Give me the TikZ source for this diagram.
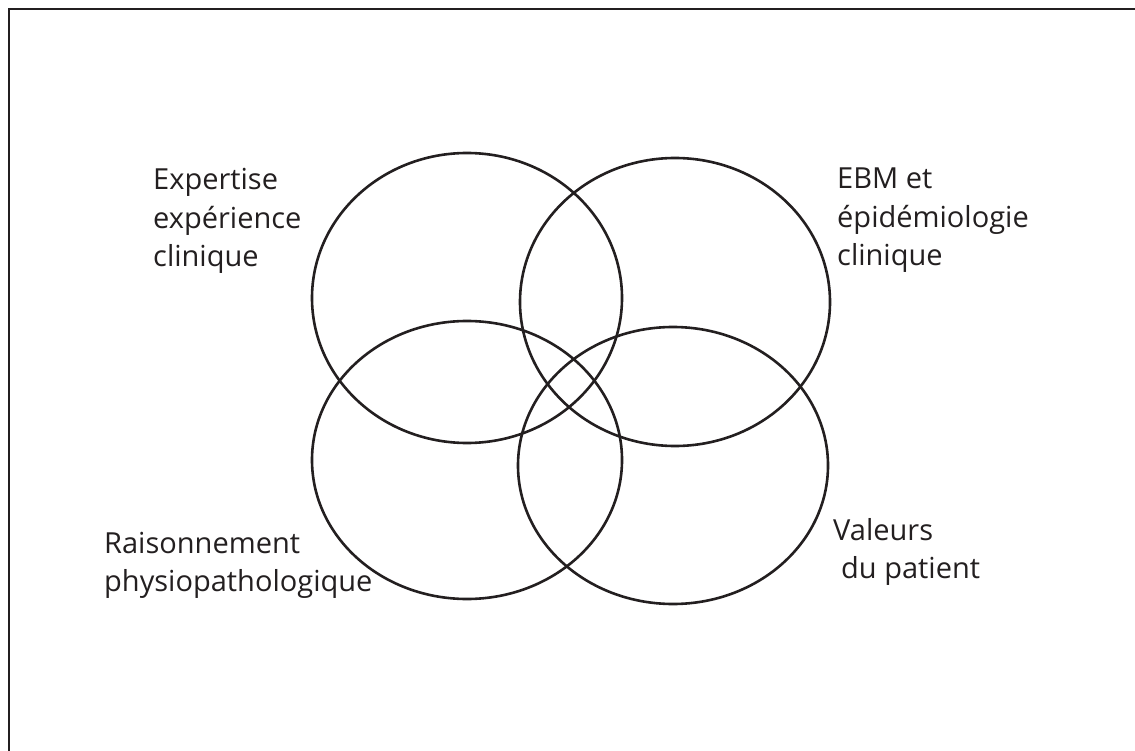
\documentclass[tikz,border=0pt]{standalone}
\usepackage{fontspec}
\setmainfont{Open Sans}
\usetikzlibrary{shapes.geometric}
\definecolor{ink}{RGB}{35,31,32}
\begin{document}
\begin{tikzpicture}[x=1pt,y=-1pt,
  setshape/.style={draw=ink, line width=2.6pt, ellipse, inner sep=0pt, outer sep=0pt},
  label/.style={anchor=base west, inner sep=0pt, text=ink,
    font=\fontsize{29}{38.5}\selectfont},
  framestyle/.style={draw=ink, line width=2.6pt}]
\useasboundingbox (0,0) rectangle (1135,751);
% frame (only top and left edges are visible)
\coordinate (fbl) at (9,751);
\coordinate (ftl) at (9,9);
\coordinate (ftr) at (1135,9);
\draw[framestyle] (fbl) -- (ftl) -- (ftr);
% the four sets
\node[setshape, minimum width=310pt, minimum height=290pt] (tl) at (467,298) {};
\node[setshape, minimum width=310pt, minimum height=288pt] (tr) at (675,302) {};
\node[setshape, minimum width=310pt, minimum height=278pt] (bl) at (467,460) {};
\node[setshape, minimum width=310pt, minimum height=277pt] (br) at (673,465.5) {};
% labels
\node[label] (ltl) at (153,190) {\begin{tabular}[t]{@{}l@{}}Expertise\\expérience\\clinique\end{tabular}};
\node[label] (ltr) at (837,189) {\begin{tabular}[t]{@{}l@{}}EBM et\\épidémiologie\\clinique\end{tabular}};
\node[label] (lbl) at (104,553) {\begin{tabular}[t]{@{}l@{}}Raisonnement\\physiopathologique\end{tabular}};
\node[label] (lbr) at (833,540) {\begin{tabular}[t]{@{}l@{}}Valeurs\\\hspace*{8pt}du patient\end{tabular}};
\end{tikzpicture}
\end{document}
